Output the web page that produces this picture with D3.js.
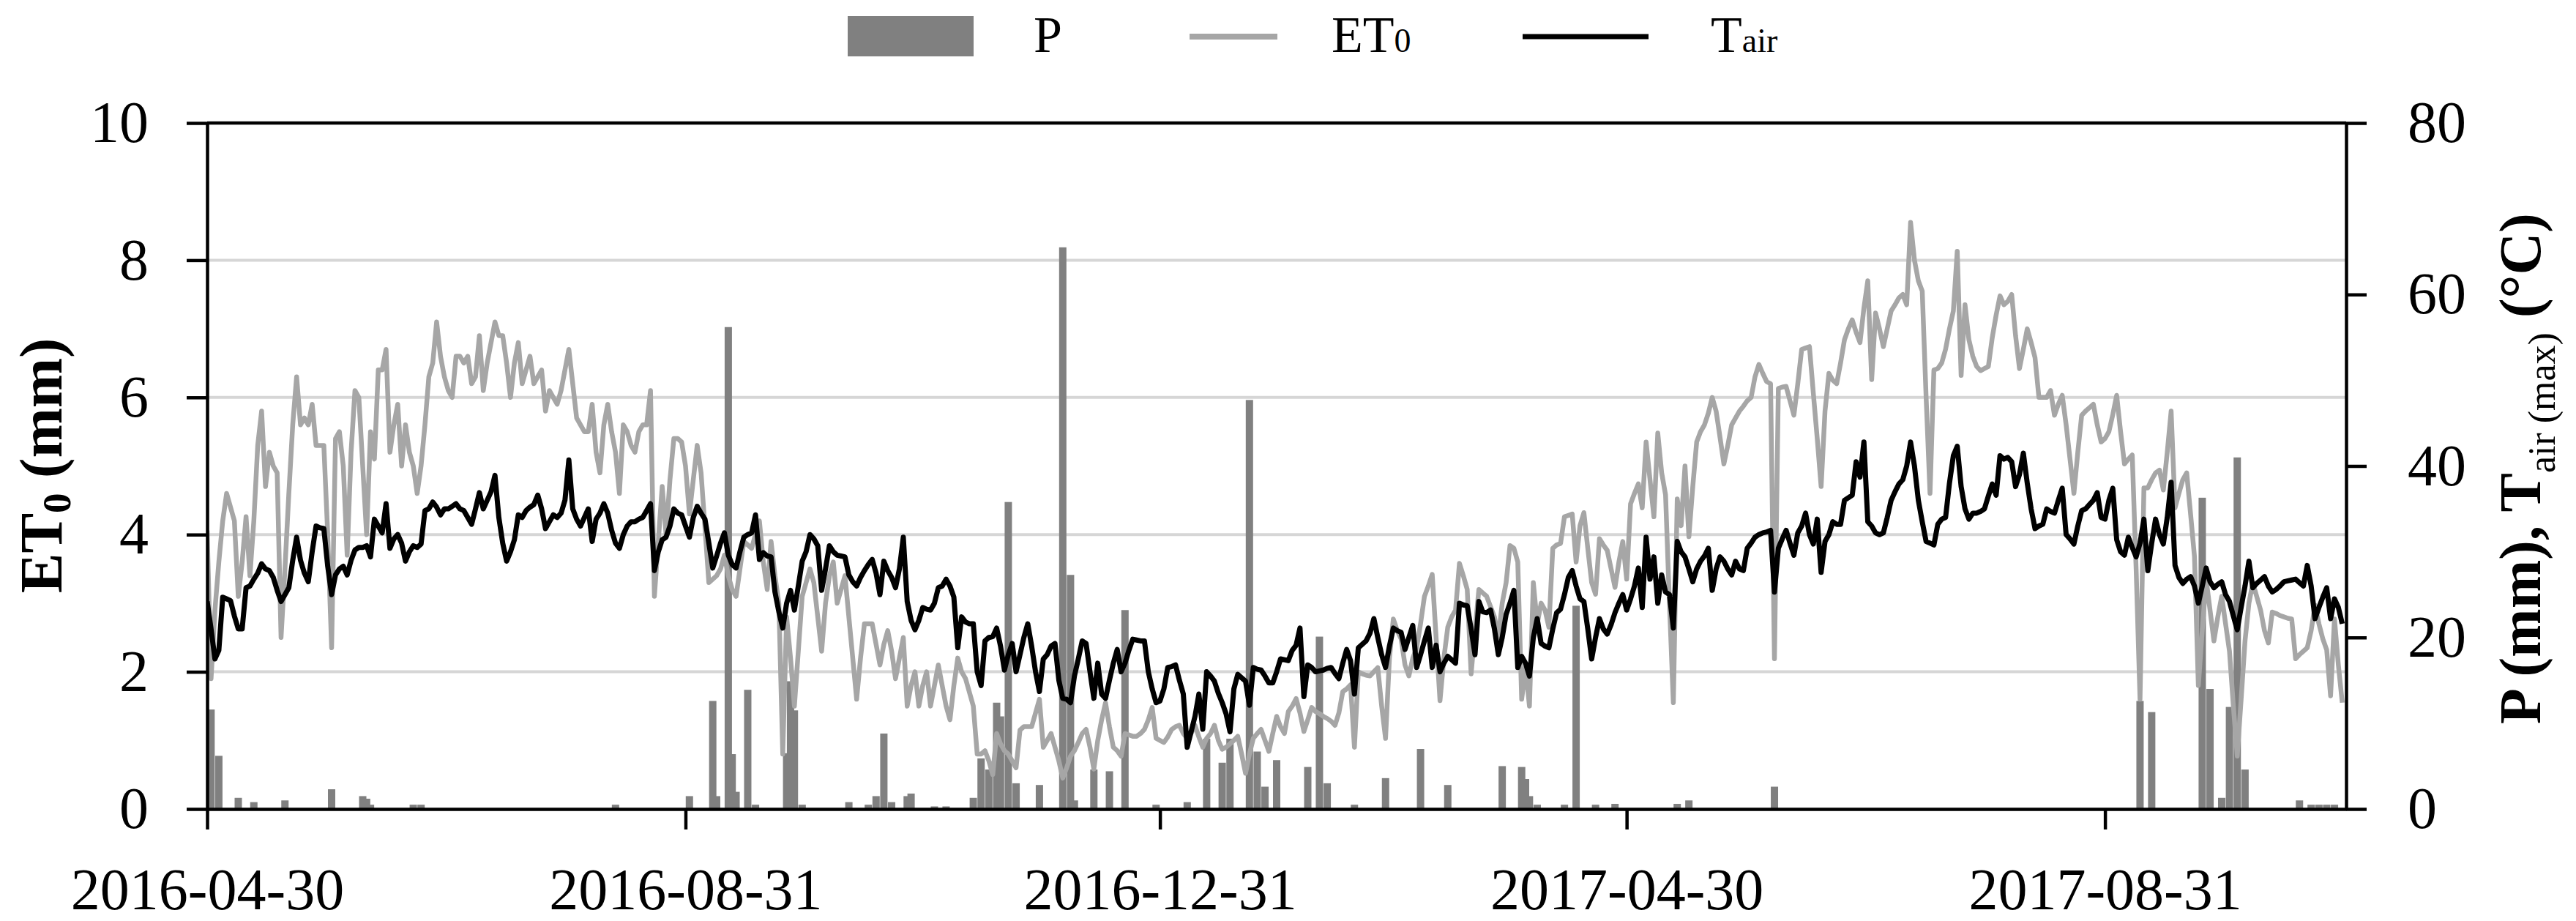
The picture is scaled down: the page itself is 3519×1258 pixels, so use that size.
<!DOCTYPE html>
<html>
<head>
<meta charset="utf-8">
<script src="https://cdn.jsdelivr.net/npm/d3@7"></script>
<style>
  body { margin: 0; background: #fff; }
  text { font-family: "Liberation Serif", "Times New Roman", serif; }
</style>
</head>
<body>
<svg id="chart"></svg>
<script>
// daily series, first value is 2016-04-30
const startDate = "2016-04-30";
const tickDates = ["2016-04-30", "2016-08-31", "2016-12-31", "2017-04-30", "2017-08-31"];
const leftTicks = [0, 2, 4, 6, 8, 10];
const rightTicks = [0, 20, 40, 60, 80];

// ET0 (mm), left axis
const et0 = [
  4.06, 1.9, 2.9, 3.6, 4.2, 4.6, 4.4, 4.2, 3.1, 3.6,
  4.26, 3.4, 4.2, 5.3, 5.8, 4.7, 5.2, 5.0, 4.9, 2.5,
  3.5, 4.6, 5.6, 6.3, 5.6, 5.7, 5.6, 5.9, 5.3, 5.3,
  5.3, 4.0, 2.35, 5.4, 5.5, 5.0, 3.7, 5.2, 6.1, 6.0,
  5.0, 4.0, 5.5, 5.1, 6.4, 6.4, 6.7, 5.2, 5.6, 5.9,
  5.0, 5.6, 5.2, 5.0, 4.6, 5.0, 5.6, 6.3, 6.5, 7.1,
  6.6, 6.3, 6.1, 6.0, 6.6, 6.6, 6.5, 6.6, 6.2, 6.3,
  6.9, 6.1, 6.5, 6.8, 7.1, 6.9, 6.9, 6.5, 6.0, 6.5,
  6.8, 6.2, 6.4, 6.6, 6.2, 6.3, 6.4, 5.8, 6.1, 6.0,
  5.9, 6.1, 6.4, 6.7, 6.2, 5.7, 5.6, 5.5, 5.5, 5.9,
  5.2, 4.9, 5.6, 5.9, 5.5, 5.2, 4.6, 5.6, 5.5, 5.3,
  5.2, 5.5, 5.6, 5.6, 6.1, 3.1, 3.9, 4.7, 4.0, 4.8,
  5.4, 5.4, 5.35, 5.0, 4.3, 4.8, 5.3, 4.9, 4.1, 3.3,
  3.35, 3.4, 3.5, 3.7, 3.4, 3.2, 3.1, 3.5, 3.9, 3.85,
  3.8, 4.0, 4.2, 3.6, 3.2, 3.9, 3.4, 3.0, 0.8, 2.8,
  2.2, 1.5, 2.3, 3.1, 3.3, 3.5, 3.3, 2.8, 2.3, 3.0,
  3.4, 3.6, 3.0, 3.2, 3.4, 2.8, 2.2, 1.6, 2.2, 2.7,
  2.7, 2.7, 2.4, 2.1, 2.4, 2.6, 2.3, 1.9, 2.2, 2.5,
  1.5, 1.8, 2.0, 1.5, 1.8, 2.0, 1.5, 1.8, 2.1, 1.8,
  1.5, 1.3, 1.8, 2.2, 2.0, 1.9, 1.7, 1.5, 0.8, 0.8,
  0.85, 0.7, 0.5, 1.1, 0.95, 0.85, 0.8, 0.7, 0.6, 1.15,
  1.2, 1.2, 1.2, 1.4, 1.6, 0.9, 1.0, 1.1, 0.9, 0.7,
  0.45, 0.6, 0.77, 0.85, 0.97, 1.1, 1.16, 0.9, 0.58, 1.0,
  1.3, 1.55, 1.2, 0.9, 0.85, 0.77, 1.1, 1.08, 1.06, 1.06,
  1.1, 1.16, 1.3, 1.48, 1.03, 1.0, 0.97, 1.05, 1.16, 1.2,
  1.22, 1.1, 1.03, 1.1, 1.22, 1.05, 0.9, 1.03, 1.1, 1.22,
  1.0, 0.87, 0.9, 0.95, 1.0, 1.06, 0.8, 0.52, 0.8, 1.03,
  1.1, 1.16, 1.0, 0.84, 1.1, 1.35, 1.2, 1.1, 1.42, 1.5,
  1.61, 1.4, 1.13, 1.3, 1.48, 1.42, 1.39, 1.35, 1.32, 1.28,
  1.22, 1.4, 1.71, 1.75, 1.81, 0.9, 2.0, 1.97, 1.95, 1.94,
  2.0, 2.06, 1.5, 1.03, 2.2, 2.77, 2.6, 2.48, 2.1, 1.94,
  2.2, 2.35, 2.7, 3.1, 3.25, 3.42, 2.5, 1.58, 2.2, 2.65,
  2.8, 2.9, 3.58, 3.4, 3.2, 1.97, 2.6, 3.2, 3.15, 3.1,
  2.95, 2.8, 2.5, 3.0, 3.3, 3.84, 3.8, 3.6, 1.6, 2.06,
  1.5, 3.3, 2.7, 3.0, 2.9, 2.65, 3.8, 3.85, 3.87, 4.26,
  4.28, 4.3, 3.6, 4.13, 4.32, 3.8, 3.3, 3.13, 3.94, 3.85,
  3.77, 3.5, 3.23, 3.6, 3.9, 3.35, 4.45, 4.6, 4.74, 4.39,
  5.35, 4.8, 4.26, 5.48, 4.9, 4.58, 3.0, 1.55, 4.52, 4.13,
  5.0, 3.97, 4.7, 5.35, 5.5, 5.6, 5.77, 6.0, 5.8, 5.42,
  5.03, 5.3, 5.6, 5.7, 5.8, 5.87, 5.95, 6.0, 6.3, 6.48,
  6.35, 6.23, 6.2, 2.19, 6.13, 6.15, 6.16, 5.95, 5.74, 6.2,
  6.7, 6.72, 6.74, 6.06, 5.4, 4.7, 5.8, 6.35, 6.25, 6.2,
  6.5, 6.84, 7.0, 7.13, 6.95, 6.8, 7.3, 7.7, 6.26, 7.23,
  7.0, 6.74, 7.0, 7.26, 7.35, 7.45, 7.5, 7.35, 8.55, 8.0,
  7.7, 7.55, 6.0, 4.6, 6.4, 6.42, 6.5, 6.7, 7.0, 7.26,
  8.13, 6.32, 7.35, 6.84, 6.6, 6.45, 6.39, 6.42, 6.45, 6.87,
  7.2, 7.48, 7.35, 7.4, 7.5, 6.9, 6.42, 6.7, 7.0, 6.8,
  6.58, 6.0, 6.0, 6.0, 6.1, 5.74, 5.9, 6.03, 5.6, 5.1,
  4.6, 5.2, 5.74, 5.8, 5.85, 5.9, 5.6, 5.35, 5.4, 5.5,
  5.75, 6.03, 5.5, 5.03, 5.1, 5.16, 3.5, 1.6, 4.68, 4.68,
  4.8, 4.9, 4.94, 4.65, 5.2, 5.8, 4.39, 4.6, 4.8, 4.9,
  4.3, 3.68, 1.8, 2.6, 3.35, 2.9, 2.45, 2.8, 3.1, 2.7,
  2.3, 1.5, 0.77, 1.6, 2.45, 3.0, 3.3, 3.1, 2.9, 2.6,
  2.42, 2.87, 2.85, 2.82, 2.8, 2.78, 2.77, 2.19, 2.25, 2.3,
  2.35, 2.6, 2.97, 2.7, 2.48, 2.32, 1.65, 2.77, 2.1, 1.55
];

// Tair max (°C), right axis
const tair = [
  24.2, 21.0, 17.5, 18.5, 24.7, 24.5, 24.3, 22.5, 21.0, 21.0,
  25.8, 26.0, 26.8, 27.5, 28.6, 28.0, 27.8, 27.0, 25.5, 24.2,
  25.0, 25.8, 29.0, 31.7, 29.0, 27.5, 26.5, 30.0, 33.0, 32.8,
  32.7, 28.3, 25.0, 27.3, 28.0, 28.3, 27.3, 29.0, 30.2, 30.5,
  30.5, 30.7, 29.4, 33.8, 33.0, 32.2, 35.6, 30.4, 31.5, 32.0,
  31.0, 28.9, 30.0, 30.7, 30.5, 30.9, 34.8, 35.0, 35.8, 35.2,
  34.3, 35.0, 35.0, 35.3, 35.6, 35.0, 34.8, 34.0, 33.2, 35.0,
  36.9, 35.0, 36.0, 37.0, 38.9, 34.0, 31.0, 28.9, 30.0, 31.4,
  34.3, 34.0, 34.8, 35.2, 35.5, 36.6, 35.0, 32.7, 33.5, 34.3,
  34.0, 34.5, 36.0, 40.7, 35.0, 33.8, 33.0, 34.0, 35.0, 31.2,
  33.8, 34.5, 35.6, 34.5, 32.5, 31.0, 30.4, 32.0, 33.0, 33.5,
  33.5, 33.8, 34.0, 34.8, 35.6, 27.8, 30.0, 31.4, 31.7, 33.0,
  35.0, 34.5, 34.3, 33.0, 31.7, 34.0, 35.3, 34.5, 33.8, 31.0,
  28.1, 29.5, 31.0, 32.2, 29.6, 28.5, 28.1, 30.0, 31.7, 32.0,
  32.2, 34.3, 29.1, 29.9, 29.5, 29.4, 25.3, 23.0, 21.1, 24.0,
  25.5, 23.2, 26.0, 28.9, 30.0, 32.0, 31.5, 30.7, 25.5, 28.0,
  30.7, 30.0, 29.6, 29.5, 29.4, 27.3, 26.5, 26.0, 27.0, 27.8,
  28.5, 29.1, 27.5, 25.0, 28.9, 27.8, 27.0, 25.8, 28.0, 31.7,
  24.2, 22.0, 20.9, 22.0, 23.5, 23.3, 23.2, 24.0, 25.8, 26.0,
  26.8, 26.0, 24.7, 18.8, 22.4, 21.8, 21.6, 21.6, 16.0, 14.4,
  19.6, 20.0, 20.1, 21.1, 19.0, 16.2, 18.0, 19.3, 16.0, 18.0,
  20.0, 21.6, 19.0, 16.0, 13.7, 17.5, 18.0, 19.0, 19.3, 15.0,
  12.9, 12.8, 12.4, 15.5, 17.5, 19.6, 19.3, 16.0, 12.9, 17.0,
  13.4, 12.9, 15.0, 17.0, 18.6, 16.0, 17.0, 18.5, 19.8, 19.7,
  19.6, 19.6, 16.0, 14.0, 12.4, 12.6, 14.0, 16.5, 16.6, 16.8,
  15.0, 13.4, 7.2, 9.0, 10.8, 13.4, 9.3, 16.0, 15.5, 14.9,
  13.5, 12.4, 11.1, 9.0, 14.0, 15.7, 15.3, 14.9, 12.1, 16.5,
  16.3, 16.2, 15.5, 14.7, 14.7, 16.0, 17.5, 17.4, 17.3, 18.5,
  19.1, 21.1, 13.1, 16.8, 16.5, 16.0, 16.1, 16.2, 16.4, 16.5,
  15.8, 15.2, 17.0, 18.6, 17.3, 13.4, 18.8, 19.2, 19.6, 20.5,
  22.2, 20.0, 18.0, 16.5, 19.0, 21.1, 20.8, 20.6, 18.6, 20.0,
  21.4, 16.5, 18.0, 19.6, 21.1, 16.5, 19.1, 16.0, 17.0, 17.8,
  17.4, 17.0, 24.0, 23.8, 23.7, 21.0, 18.0, 24.2, 23.0, 22.9,
  23.2, 21.0, 18.0, 20.0, 22.7, 24.0, 25.5, 16.5, 17.8, 17.0,
  15.5, 20.0, 22.2, 19.3, 19.0, 18.8, 21.0, 22.9, 23.3, 25.0,
  27.0, 27.8, 26.0, 24.5, 24.2, 21.0, 17.5, 20.0, 22.2, 21.0,
  20.4, 21.5, 22.9, 24.0, 25.0, 23.2, 24.5, 26.0, 28.1, 23.5,
  31.7, 26.8, 29.4, 24.0, 27.3, 25.3, 25.0, 21.1, 31.2, 30.0,
  29.4, 28.0, 26.5, 28.0, 28.9, 29.5, 30.4, 25.5, 28.0, 29.4,
  28.9, 28.0, 27.3, 28.9, 28.0, 27.8, 30.4, 31.0, 31.7, 32.0,
  32.2, 32.3, 32.5, 25.3, 30.4, 31.5, 32.5, 31.0, 29.6, 32.2,
  33.0, 34.5, 32.0, 30.9, 33.8, 27.6, 31.2, 32.0, 33.5, 33.2,
  33.2, 36.0, 36.3, 36.6, 40.5, 38.7, 42.8, 33.5, 33.0, 32.2,
  32.0, 32.2, 34.0, 36.0, 37.0, 37.9, 38.4, 40.0, 42.8, 40.0,
  36.0, 33.5, 31.2, 31.0, 30.8, 33.2, 33.8, 34.0, 38.0, 41.2,
  42.3, 37.6, 35.0, 33.8, 34.5, 34.5, 34.7, 35.0, 36.5, 37.9,
  36.6, 41.2, 40.8, 41.0, 40.5, 37.6, 39.0, 41.5, 38.0, 35.0,
  32.7, 33.0, 33.2, 35.0, 34.7, 34.5, 36.0, 37.4, 32.0, 31.5,
  30.9, 33.0, 34.8, 35.0, 35.5, 36.0, 36.9, 34.0, 33.8, 36.0,
  37.4, 31.4, 30.0, 29.6, 31.7, 30.5, 29.4, 31.0, 33.8, 27.8,
  31.0, 33.8, 32.0, 30.9, 34.0, 38.1, 28.4, 27.0, 26.3, 26.8,
  27.1, 26.0, 24.0, 26.0, 28.1, 26.5, 25.8, 26.2, 26.5, 25.0,
  24.2, 22.5, 20.9, 23.5, 26.0, 28.9, 25.8, 26.3, 26.7, 27.1,
  26.0, 25.3, 25.6, 26.0, 26.5, 26.6, 26.7, 26.8, 26.4, 26.0,
  28.4, 26.0, 22.2, 23.5, 24.7, 25.8, 22.2, 24.5, 23.5, 21.6
];

// P (mm), right axis: [day after start, mm]; other days are dry
const precip = [
  [1, 11.6], [3, 6.2], [8, 1.3], [12, 0.8], [20, 1.0], [32, 2.3], [40, 1.5], [41, 1.2],
  [42, 0.5], [53, 0.5], [55, 0.5], [105, 0.5], [124, 1.5], [130, 12.6], [131, 1.5],
  [134, 56.2], [135, 6.4], [136, 2.0], [139, 13.9], [141, 0.5], [149, 6.5], [150, 14.9],
  [151, 11.5], [153, 0.5], [165, 0.8], [170, 0.5], [172, 1.5], [174, 8.8], [176, 0.8],
  [180, 1.5], [181, 1.8], [187, 0.3], [190, 0.3], [197, 1.3], [199, 5.9], [201, 4.6],
  [203, 12.4], [204, 10.8], [206, 35.8], [208, 3.0], [214, 2.8], [220, 65.5], [222, 27.3],
  [223, 1.0], [228, 4.6], [232, 4.4], [236, 23.2], [244, 0.5], [252, 0.8], [257, 8.2],
  [261, 5.4], [263, 8.2], [268, 47.7], [270, 6.7], [272, 2.6], [275, 5.7], [283, 4.9],
  [286, 20.1], [288, 3.0], [295, 0.5], [303, 3.6], [312, 7.0], [319, 2.8], [333, 5.0],
  [338, 4.9], [339, 3.5], [340, 1.5], [342, 0.5], [349, 0.5], [352, 23.7], [357, 0.5],
  [362, 0.6], [378, 0.6], [381, 1.0], [403, 2.6], [497, 12.6], [500, 11.3], [513, 36.3],
  [515, 14.0], [518, 1.3], [520, 11.9], [522, 41.0], [524, 4.6], [538, 1.0], [541, 0.5],
  [543, 0.5], [545, 0.5], [547, 0.5]
];

const width = 3519, height = 1258;
const margin = { top: 168, right: 314, bottom: 153, left: 283 };
const plotW = width - margin.left - margin.right,
      plotH = height - margin.top - margin.bottom;

const parse = d3.utcParse("%Y-%m-%d");
const t0 = parse(startDate);
const dayDate = i => d3.utcDay.offset(t0, i);

const root = d3.select("#chart")
    .attr("width", width)
    .attr("height", height)
    .style("background", "#fff");

const svg = root.append("g")
    .attr("transform", `translate(${margin.left},${margin.top})`);

// scales
const x = d3.scaleUtc()
    .domain([t0, d3.utcDay.offset(t0, 550)])
    .range([0, plotW]);
const yL = d3.scaleLinear().domain([0, 10]).range([plotH, 0]);
const yR = d3.scaleLinear().domain([0, 80]).range([plotH, 0]);

svg.append("clipPath").attr("id", "plotclip")
  .append("rect").attr("x", 0).attr("y", -4).attr("width", plotW).attr("height", plotH + 4);

// gridlines
svg.append("g")
  .selectAll("line")
  .data(leftTicks.filter(v => v > 0 && v < 10))
  .enter().append("line")
    .attr("x1", 0).attr("x2", plotW)
    .attr("y1", d => yL(d)).attr("y2", d => yL(d))
    .attr("stroke", "#d6d6d6")
    .attr("stroke-width", 4);

const plot = svg.append("g").attr("clip-path", "url(#plotclip)");

// precipitation bars
const barW = 10;
plot.selectAll(".bar")
  .data(precip)
  .enter().append("rect")
    .attr("class", "bar")
    .attr("x", d => x(dayDate(d[0])) - barW / 2)
    .attr("y", d => yR(d[1]))
    .attr("width", barW)
    .attr("height", d => plotH - yR(d[1]))
    .attr("fill", "#808080");

// ET0 line
plot.append("path")
  .datum(et0)
  .attr("fill", "none")
  .attr("stroke", "#a6a6a6")
  .attr("stroke-width", 6.5)
  .attr("stroke-linejoin", "round")
  .attr("d", d3.line().x((d, i) => x(dayDate(i))).y(d => yL(d)));

// Tair line
plot.append("path")
  .datum(tair)
  .attr("fill", "none")
  .attr("stroke", "#000")
  .attr("stroke-width", 7)
  .attr("stroke-linejoin", "round")
  .attr("d", d3.line().x((d, i) => x(dayDate(i))).y(d => yR(d)));

// axes
function styleAxis(g) {
  g.attr("font-size", 80).attr("font-family", '"Liberation Serif", serif');
  g.selectAll("path.domain").attr("stroke", "#000").attr("stroke-width", 4.5);
  g.selectAll(".tick line").attr("stroke", "#000").attr("stroke-width", 4.5);
  g.selectAll(".tick text").attr("fill", "#000");
}

svg.append("g")
  .call(d3.axisLeft(yL).tickValues(leftTicks).tickSize(28).tickSizeOuter(0).tickPadding(52))
  .call(styleAxis);

svg.append("g")
  .attr("transform", `translate(${plotW},0)`)
  .call(d3.axisRight(yR).tickValues(rightTicks).tickSize(28).tickSizeOuter(0).tickPadding(56))
  .call(styleAxis);

svg.append("g")
  .attr("transform", `translate(0,${plotH})`)
  .call(d3.axisBottom(x).tickValues(tickDates.map(parse)).tickSize(28).tickSizeOuter(0)
        .tickPadding(52).tickFormat(d3.utcFormat("%Y-%m-%d")))
  .call(styleAxis);

// top border
svg.append("line")
  .attr("x1", 0).attr("x2", plotW).attr("y1", 0).attr("y2", 0)
  .attr("stroke", "#000").attr("stroke-width", 4.5);

// axis titles
const leftTitle = root.append("text")
  .attr("transform", "translate(84,636) rotate(-90)")
  .attr("text-anchor", "middle")
  .attr("font-size", 82)
  .attr("font-weight", "bold");
leftTitle.append("tspan").text("ET");
leftTitle.append("tspan").attr("font-size", 55).attr("dy", 12).text("0");
leftTitle.append("tspan").attr("dy", -12).text(" (mm)");

const rightTitle = root.append("text")
  .attr("transform", "translate(3470,640) rotate(-90)")
  .attr("text-anchor", "middle")
  .attr("font-size", 80)
  .attr("font-weight", "bold");
rightTitle.append("tspan").text("P (mm), T");
rightTitle.append("tspan").attr("font-size", 52).attr("font-weight", "normal").attr("dy", 20).text("air (max)");
rightTitle.append("tspan").attr("dy", -20).text(" (°C)");

// legend
const legend = root.append("g").attr("font-size", 70);
legend.append("rect")
  .attr("x", 1158).attr("y", 22).attr("width", 172).attr("height", 55)
  .attr("fill", "#808080");
legend.append("text").attr("x", 1412).attr("y", 71).text("P");

legend.append("line")
  .attr("x1", 1625).attr("x2", 1745).attr("y1", 50).attr("y2", 50)
  .attr("stroke", "#a6a6a6").attr("stroke-width", 8);
const lgEt = legend.append("text").attr("x", 1819).attr("y", 71);
lgEt.append("tspan").text("ET");
lgEt.append("tspan").attr("font-size", 46).text("0");

legend.append("line")
  .attr("x1", 2080).attr("x2", 2252).attr("y1", 50).attr("y2", 50)
  .attr("stroke", "#000").attr("stroke-width", 7);
const lgT = legend.append("text").attr("x", 2337).attr("y", 71);
lgT.append("tspan").text("T");
lgT.append("tspan").attr("font-size", 46).text("air");
</script>
</body>
</html>
